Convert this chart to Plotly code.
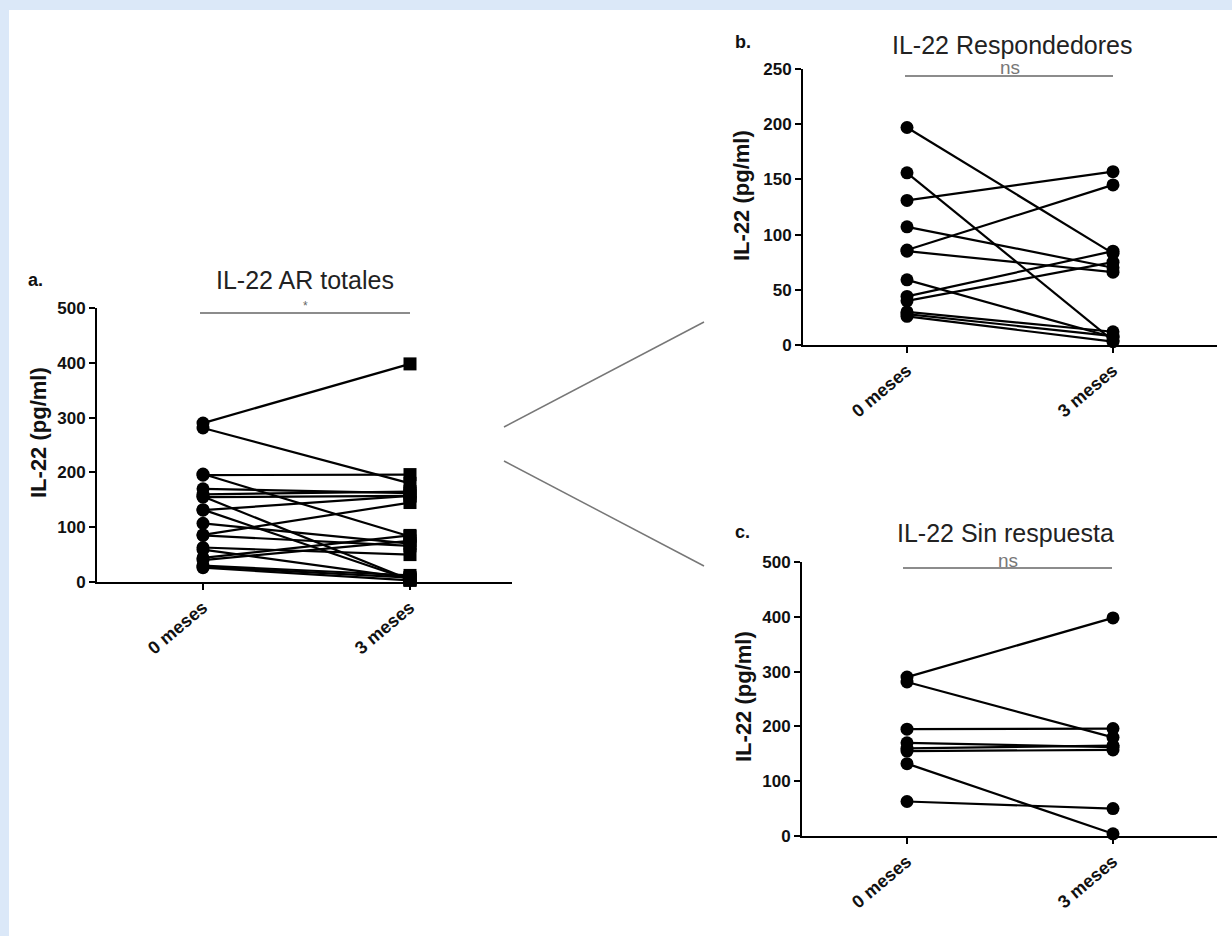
import plotly.graph_objects as go

# ---- data ----
categories = ["0 meses", "3 meses"]
resp_0m = [197, 156, 131, 107, 86, 85, 59, 44, 40, 30, 28, 26]
resp_3m = [83, 4, 157, 70, 145, 66, 7, 85, 75, 12, 8, 3]
nonresp_0m = [290, 281, 195, 170, 160, 155, 132, 63]
nonresp_3m = [398, 180, 196, 162, 165, 157, 4, 50]
total_0m = resp_0m + nonresp_0m
total_3m = resp_3m + nonresp_3m

W, H = 1232, 936
FONT = "Liberation Sans, Arial, sans-serif"


def px(x):
    return x / W


def py(y):
    return 1 - y / H


fig = go.Figure()


def add_panel(v0, v1, xa, ya, symbols):
    for a, b in zip(v0, v1):
        fig.add_trace(go.Scatter(
            x=[0, 1], y=[a, b], mode="lines+markers",
            line=dict(color="black", width=2.2),
            marker=dict(color="black", size=13, symbol=symbols),
            xaxis=xa, yaxis=ya, showlegend=False, cliponaxis=False,
            hoverinfo="y"))


add_panel(total_0m, total_3m, "x", "y", ["circle", "square"])
add_panel(resp_0m, resp_3m, "x2", "y2", ["circle", "circle"])
add_panel(nonresp_0m, nonresp_3m, "x3", "y3", ["circle", "circle"])

axis_common = dict(showline=True, linecolor="black", linewidth=2,
                   ticks="outside", ticklen=6, tickwidth=2, tickcolor="black",
                   showgrid=False, zeroline=False, automargin=False,
                   tickfont=dict(family=FONT, size=17, color="#111", weight="bold"))

xcommon = dict(axis_common, tickvals=[0, 1], ticktext=categories, tickangle=-40,
               tickfont=dict(family=FONT, size=18, color="#111", weight="bold"))

# panel domains in pixels
pa = dict(x0=97, x1=512, y0=582, y1=308, c0=203, c1=410)
pb = dict(x0=803, x1=1217, y0=345, y1=69, c0=907, c1=1113)
pc = dict(x0=802, x1=1217, y0=836, y1=562, c0=907, c1=1113)


def xrange_of(p):
    s = p["c1"] - p["c0"]
    return [(p["x0"] - p["c0"]) / s, (p["x1"] - p["c0"]) / s]


fig.update_layout(
    xaxis=dict(xcommon, domain=[px(pa["x0"]), px(pa["x1"])], range=xrange_of(pa), anchor="y"),
    yaxis=dict(axis_common, domain=[py(pa["y0"]), py(pa["y1"])], range=[0, 500],
               tickvals=[0, 100, 200, 300, 400, 500], anchor="x"),
    xaxis2=dict(xcommon, domain=[px(pb["x0"]), px(pb["x1"])], range=xrange_of(pb), anchor="y2"),
    yaxis2=dict(axis_common, domain=[py(pb["y0"]), py(pb["y1"])], range=[0, 250],
                tickvals=[0, 50, 100, 150, 200, 250], anchor="x2"),
    xaxis3=dict(xcommon, domain=[px(pc["x0"]), px(pc["x1"])], range=xrange_of(pc), anchor="y3"),
    yaxis3=dict(axis_common, domain=[py(pc["y0"]), py(pc["y1"])], range=[0, 500],
                tickvals=[0, 100, 200, 300, 400, 500], anchor="x3"),
    width=W, height=H, margin=dict(l=0, r=0, t=0, b=0, autoexpand=False),
    paper_bgcolor="white", plot_bgcolor="rgba(0,0,0,0)",
    font=dict(family=FONT),
)

shapes = []
# light blue frame strips
shapes.append(dict(type="rect", xref="paper", yref="paper", x0=0, x1=px(9), y0=0, y1=1,
                   fillcolor="#dbe8f8", line=dict(width=0), layer="below"))
shapes.append(dict(type="rect", xref="paper", yref="paper", x0=0, x1=1, y0=py(10), y1=1,
                   fillcolor="#dbe8f8", line=dict(width=0), layer="below"))
# significance bars
for (x0, x1, y) in [(200, 410, 313), (905, 1113, 76), (903, 1112, 568)]:
    shapes.append(dict(type="line", xref="paper", yref="paper", x0=px(x0), x1=px(x1),
                       y0=py(y), y1=py(y), line=dict(color="#666", width=1.5)))
# connector lines
shapes.append(dict(type="line", xref="paper", yref="paper", x0=px(504), y0=py(427),
                   x1=px(704), y1=py(322), line=dict(color="#777", width=1.5)))
shapes.append(dict(type="line", xref="paper", yref="paper", x0=px(504), y0=py(461),
                   x1=px(704), y1=py(566), line=dict(color="#777", width=1.5)))
fig.update_layout(shapes=shapes)

ann = []


def text(x, y, s, size, color="#222", bold=False, angle=0, xanchor="center"):
    ann.append(dict(x=px(x), y=py(y), xref="paper", yref="paper", text=s, showarrow=False,
                    xanchor=xanchor, yanchor="middle", textangle=angle,
                    font=dict(family=FONT, size=size, color=color,
                              weight="bold" if bold else "normal")))


# panel letters
text(26, 280, "a.", 18, "#111", True, xanchor="left")
text(733, 42, "b.", 18, "#111", True, xanchor="left")
text(733, 532, "c.", 18, "#111", True, xanchor="left")
# titles
text(305, 280, "IL-22 AR totales", 25)
text(1012, 45, "IL-22 Respondedores", 25)
text(1005, 533, "IL-22 Sin respuesta", 25)
# significance labels
text(305, 306, "*", 12, "#666")
text(1010, 68, "ns", 19, "#777")
text(1008, 560, "ns", 19, "#777")
# y-axis titles
text(38, 433, "IL-22 (pg/ml)", 22, "#111", True, angle=-90)
text(741, 196, "IL-22 (pg/ml)", 22, "#111", True, angle=-90)
text(743, 697, "IL-22 (pg/ml)", 22, "#111", True, angle=-90)
fig.update_layout(annotations=ann)

fig.write_html("out.html", config={"displayModeBar": False},
               post_script="document.body.style.margin='0';document.body.style.overflow='hidden';")
